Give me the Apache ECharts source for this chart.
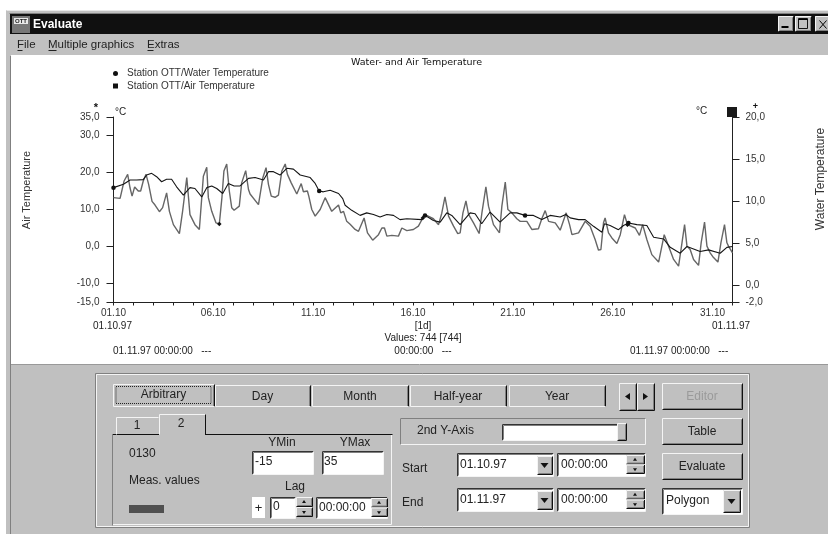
<!DOCTYPE html>
<html><head><meta charset="utf-8">
<style>html,body{margin:0;padding:0;background:#fff}#c{width:828px;height:534px;filter:blur(.35px)}</style>
<script src="https://cdn.jsdelivr.net/npm/echarts@6/dist/echarts.min.js"></script>
</head><body><div id="c"></div>
<script>
const airDays=[0,.33,.53,.71,.83,.93,1.06,1.24,1.36,1.49,1.63,1.76,1.93,2.08,2.3,2.46,2.66,2.8,3,3.3,3.46,3.67,3.83,4.08,4.3,4.42,4.5,4.67,4.75,4.92,5.13,5.3,5.43,5.53,5.67,5.8,5.92,6.04,6.3,6.42,6.62,6.76,6.84,7.26,7.48,7.64,7.76,7.9,8.09,8.26,8.43,8.6,8.71,8.9,9.18,9.4,9.51,9.71,9.78,9.93,10.1,10.35,10.6,10.93,11.27,11.38,11.52,11.68,11.85,12.1,12.27,12.55,12.72,12.98,13.27,13.44,13.57,13.69,13.94,14.27,14.44,14.69,15.02,15.27,15.49,15.6,16.02,16.28,16.44,16.6,16.78,17.03,17.24,17.36,17.5,17.65,17.78,18.03,18.31,18.45,18.65,18.78,19.03,19.33,19.45,19.62,19.75,19.95,20.2,20.37,20.7,20.95,21.28,21.45,21.62,21.79,22.12,22.37,22.67,22.84,22.96,23.29,23.62,23.87,24.12,24.29,24.41,24.54,24.62,24.79,24.96,25.21,25.38,25.59,25.74,26.13,26.34,26.5,26.71,26.96,27.3,27.58,27.8,28.05,28.3,28.47,28.6,28.72,28.88,29.05,29.3,29.43,29.6,29.72,29.88,30.05,30.27,30.42,30.6,30.72,30.8,31];
const airValues=[13.2,13,17.7,19.5,15.8,13.6,16.1,15,15,17.7,19.5,16.8,12.2,11.2,9.4,10.5,14.5,9.5,5.9,3.5,9.5,18.6,8.6,5.9,4.6,13.2,19,21.4,13.2,9.5,6.4,6.1,13.2,20.4,22.3,15,10.5,9.8,10.9,17.2,20.5,15.4,14.2,11.3,18.6,21.3,16.8,13.6,13.3,13.9,20.4,22.3,19.5,17.2,14.2,17,14.8,15,13.6,10,8.2,10,13.2,9.5,11.2,9.1,9.5,6.8,6,4.6,4.1,7.7,3.7,1.7,3.2,5,5,2.8,3,2.8,5,4.3,4.6,5.5,7.7,8.6,7.5,5.9,9,13.4,8.2,5.5,3.5,3.7,9.1,12.3,8.7,6.4,3.5,9.1,16.1,10.9,5.9,3.7,10.9,17.4,10,9.1,7.5,6.8,6.8,4.6,4.8,7.5,9.7,6.8,6.4,4.4,9.1,5.9,3.2,3.7,6.8,5.5,1.9,-1,-.8,6.4,7.7,3.7,2.3,.8,3.2,8.6,5.9,5,3,5.9,1.9,-2.2,-4.2,3.2,.1,-3.5,-5.3,1,5.9,.1,-.8,-3.5,-5.1,1,6.6,.1,-1.7,-3,-4.2,1,5.9,1,.1,-1.7];
const waterDays=[0,.5,.83,1.16,1.49,1.66,1.91,2.16,2.41,2.66,2.91,3.16,3.5,3.83,4.08,4.42,4.67,4.92,5.17,5.47,5.75,6.04,6.34,6.76,7.09,7.51,7.76,8.01,8.34,8.68,9.01,9.35,9.85,10.1,10.3,10.51,10.85,11.27,11.48,11.6,11.93,12.35,12.68,13.02,13.35,13.69,14.02,14.35,14.69,15.44,15.6,16.02,16.36,16.69,16.94,17.36,17.86,18.11,18.44,18.86,19.36,19.86,20.2,20.61,21.03,21.45,21.87,22.37,22.65,22.87,23.29,23.62,24.04,24.46,24.59,24.87,25.29,25.54,25.79,26.21,26.71,27.05,27.55,27.88,28.38,28.72,29.05,29.38,29.8,30.38,30.72,31];
const waterValues=[11.6,12,12.5,12.5,12.55,13.1,13.3,12.9,12.3,12.6,12.6,11.7,10.7,11.6,11.5,10.5,11.6,11.8,11.5,10.9,12.1,11.8,11.8,12.7,12.8,12.5,13.5,13.5,13.1,13.9,13.8,13.1,12.8,12.1,11.2,11.1,11.3,10.9,10.3,9.5,8.9,8.3,8.6,8.4,8.1,8.4,8.3,7.8,7.9,7.8,8.3,7.7,7.5,8.6,8.3,7.2,8.6,8.5,7.3,8.7,7.5,8.6,8.6,8.3,8.3,7.8,8.3,8.1,8.4,8,7.8,7.8,7,6.3,7.3,7.1,6.6,7.1,7.4,7.2,7.1,5.7,5.5,4.5,3.8,4.6,4.3,4,4.2,3.8,4.5,4.6];
const waterMarkerDays=[0,10.3,15.6,20.61,25.79];
const airMarkerDays=[5.3,15.49,25.74];
const xTickDays=[0,5,10,15,20,25,30];
const xTickLabels=['01.10','06.10','11.10','16.10','21.10','26.10','31.10'];
const leftTicks=[-15,-10,0,10,20,30,35];
const rightTicks=[-2,0,5,10,15,20];
const seriesNames=['Station OTT/Water Temperature','Station OTT/Air Temperature'];

const F='"Liberation Sans",Arial,sans-serif',G='#c0c0c0',D='#808080',K='#101010',L='#f4f4f4',TX='#222';
const els=[];
const rect=(x,y,w,h,fill,stroke,extra)=>els.push({type:'rect',silent:true,shape:{x,y,width:w,height:h},style:Object.assign({fill:fill||'none',stroke:stroke||null,lineWidth:1},extra||{})});
const line=(x1,y1,x2,y2,c)=>els.push({type:'line',silent:true,shape:{x1:x1+.5,y1:y1+.5,x2:x2+.5,y2:y2+.5},style:{stroke:c,lineWidth:1}});
const text=(s,x,y,o)=>{o=o||{};els.push({type:'text',silent:true,rotation:o.rot||0,x:x,y:y,style:{text:s,x:0,y:0,fill:o.c||TX,font:(o.b?'bold ':'')+(o.s||11)+'px '+(o.f||F),textAlign:o.a||'left',textVerticalAlign:'middle'}})};
const raised=(x,y,w,h)=>{rect(x,y,w,h,G);line(x,y,x+w,y,L);line(x,y,x,y+h,L);line(x+w-1,y+1,x+w-1,y+h,D);line(x+1,y+h-1,x+w,y+h-1,D);line(x+w,y,x+w,y+h,K);line(x,y+h,x+w,y+h,K)};
const sunken=(x,y,w,h,f)=>{rect(x,y,w,h,f||'#fff');line(x,y,x+w,y,'#333');line(x,y,x,y+h,'#333');line(x+1,y+1,x+w-1,y+1,D);line(x+1,y+1,x+1,y+h-1,D);line(x,y+h,x+w,y+h,L);line(x+w,y,x+w,y+h,L)};
const tabBtn=(x,y,w,h,s,dy)=>{rect(x,y,w,h,G);line(x,y,x+w,y,L);line(x,y,x,y+h,L);line(x+w,y,x+w,y+h,K);line(x+w-1,y+1,x+w-1,y+h,D);line(x,y+h,x+w,y+h,L);text(s,x+w/2,y+h/2+(dy===undefined?1:dy),{a:'center',s:12})};
const arrowDown=(cx,cy)=>els.push({type:'polygon',silent:true,shape:{points:[[cx-4,cy-2],[cx+4,cy-2],[cx,cy+3]]},style:{fill:'#111'}});
const spin=(x,y,w,h)=>{raised(x,y,w,h/2-1);raised(x,y+h/2,w,h/2-1);
 els.push({type:'polygon',silent:true,shape:{points:[[x+w/2-2,y+h/4+1],[x+w/2+2,y+h/4+1],[x+w/2,y+h/4-2]]},style:{fill:'#111'}});
 els.push({type:'polygon',silent:true,shape:{points:[[x+w/2-2,y+3*h/4-1],[x+w/2+2,y+3*h/4-1],[x+w/2,y+3*h/4+2]]},style:{fill:'#111'}});};

// window frame
rect(6,10,822,524,G);line(6,10,828,10,'#e8e8e8');line(9,13,828,13,D);
rect(10,14,818,20,K);
rect(12,16,18,17,'#777');rect(14,18,14,6,'#e8e8e8');text('OTT',21,21,{a:'center',s:6,c:'#222',b:true});
text('Evaluate',33,24.5,{c:'#fff',b:true,s:12});
raised(778,16,15,15);line(781,27,788,27,'#000');line(781,26,788,26,'#000');
raised(795,16,16,15);rect(798.5,18.5,9,10,null,'#111');line(798,19,807,19,'#000');
raised(815,16,14,15);line(819,20,826,28,'#000');line(826,20,819,28,'#000');
text('File',17,45,{s:11.5});text('Multiple graphics',48,45,{s:11.5});text('Extras',147,45,{s:11.5});
line(17,50,22,50,'#222');line(48,50,56,50,'#222');line(147,50,153,50,'#222');
rect(10,55,818,310,'#fff');rect(10,365,818,169,G);line(10,364,828,364,'#999');line(10,55,10,534,D);

// chart annotations
text('°C',115,112,{s:10});text('°C',696,111.5,{s:10});
rect(727,107,10,10,'#1a1a1a');
text('*',96,107.5,{s:11,a:'center',c:'#111',b:true});
text('+',755.5,107,{s:9,a:'center',c:'#111',b:true});
text('Air Temperature',27,190,{rot:Math.PI/2,a:'center',s:11,c:'#333'});
text('Water Temperature',821,179,{rot:Math.PI/2,a:'center',s:12,c:'#333'});
text('01.10.97',112.5,326,{a:'center',s:10});text('01.11.97',731,326,{a:'center',s:10});
text('[1d]',423,326,{a:'center',s:10});text('Values: 744 [744]',423,338.5,{a:'center',s:10});
text('00:00:00   ---',423,351,{a:'center',s:10});
text('01.11.97 00:00:00   ---',113,351,{s:10});text('01.11.97 00:00:00   ---',630,351,{s:10});

// control panel
rect(95.5,373.5,654,154,null,D);rect(96.5,374.5,652,152,null,L);
tabBtn(113,384,101,22,'Arbitrary',0);rect(116,386.5,95,17,null,'#222',{lineDash:[1,1]});
tabBtn(215,385,95,21,'Day');tabBtn(312,385,96,21,'Month');tabBtn(410,385,96,21,'Half-year');tabBtn(509,385,96,21,'Year');
raised(619,383,17,27);raised(637,383,17,27);
els.push({type:'polygon',silent:true,shape:{points:[[630,393],[630,400],[625,396.5]]},style:{fill:'#111'}});
els.push({type:'polygon',silent:true,shape:{points:[[643,393],[643,400],[648,396.5]]},style:{fill:'#111'}});
raised(662,383,80,26);text('Editor',702,397,{a:'center',s:12,c:'#9a9a9a'});
raised(662,418,80,26);text('Table',702,431.5,{a:'center',s:12});
raised(662,453,80,26);text('Evaluate',702,466.5,{a:'center',s:12});
sunken(662,488,80,26);raised(723,490,17,22);arrowDown(731.5,501);text('Polygon',666,500.5,{s:12});
rect(400.5,418.5,245,26,null,L);line(400,418,645,418,D);line(400,418,400,444,D);text('2nd Y-Axis',417,431,{s:12});
sunken(502,424,124,16);raised(617,423,9,17);
text('Start',402,468.5,{s:12});text('End',402,503,{s:12});
sunken(457,453,96,23);text('01.10.97',460,465,{s:12});raised(537,456,15,18);arrowDown(544.5,465);
sunken(557,453,88,23);text('00:00:00',561,465,{s:12});spin(626,455,18,19);
sunken(457,488,96,23);text('01.11.97',460,500,{s:12});raised(537,491,15,18);arrowDown(544.5,500);
sunken(557,488,88,23);text('00:00:00',561,500,{s:12});spin(626,490,18,19);
// left tab page
rect(112.5,434.5,279,90,null,L);line(112,434,392,434,K);line(112,434,112,525,D);
rect(116,417,42,17,G);line(116,417,158,417,L);line(116,417,116,434,L);text('1',137,426,{a:'center',s:12});
rect(159,414,46,21,G);line(159,414,205,414,L);line(159,414,159,434,L);line(205,414,205,434,K);text('2',181,424,{a:'center',s:12});
text('0130',129,454,{s:12});text('Meas. values',129,480.5,{s:12});rect(129,505,35,8,'#505050');
text('YMin',282,443,{a:'center',s:12});text('YMax',355,443,{a:'center',s:12});
sunken(252,451,61,23);text('-15',255,462,{s:12});sunken(322,451,61,23);text('35',324,462,{s:12});
text('Lag',295,487,{a:'center',s:12});
rect(252,497,13,21,'#fff');text('+',258.5,508,{a:'center',s:13});
sunken(270,497,25,21);text('0',273,507,{s:12});spin(296,497,16,20);
sunken(316,497,71,21);text('00:00:00',319,508,{s:12});spin(371,498,16,19);

const pts=(days,vals,marked,sym)=>days.map((d,i)=>{const m=marked.includes(d);return {value:[d,vals[i]],symbol:m?sym:'none',symbolSize:m?4.5:0}});
const axisStyle={lineStyle:{color:'#222',width:1}};
const chart=echarts.init(document.getElementById('c'));
chart.setOption({
 animation:false,backgroundColor:'#fff',
 title:{text:'Water- and Air Temperature',left:351,top:57.5,padding:0,textStyle:{fontFamily:'"DejaVu Sans"',fontSize:9.5,fontWeight:'normal',color:'#111'}},
 legend:{orient:'vertical',left:113,top:68.5,itemWidth:5,itemHeight:5,itemGap:2.5,
   data:[{name:seriesNames[0],icon:'circle'},{name:seriesNames[1],icon:'rect'}],
   textStyle:{fontFamily:F,fontSize:10,color:'#333',padding:[0,0,0,4]},padding:0,selectedMode:false},
 grid:{left:113.5,right:95.5,top:117,bottom:232,containLabel:false},
 xAxis:{type:'value',min:0,max:31,interval:1,axisLine:Object.assign({onZero:false},axisStyle),
   axisTick:{length:3.5,lineStyle:{color:'#222'}},splitLine:{show:false},
   axisLabel:{customValues:xTickDays,margin:6.5,fontFamily:F,fontSize:10,color:'#333',
     formatter:v=>xTickLabels[xTickDays.indexOf(v)]||''}},
 yAxis:[
  {type:'value',min:-15,max:35,position:'left',axisLine:{show:true,lineStyle:axisStyle.lineStyle},
   axisTick:{show:true,length:7,customValues:leftTicks,lineStyle:{color:'#222'}},splitLine:{show:false},
   axisLabel:{customValues:leftTicks,margin:14,fontFamily:F,fontSize:10,color:'#333',formatter:v=>v.toFixed(1).replace('.',',')}},
  {type:'value',min:-2,max:20,position:'right',axisLine:{show:true,lineStyle:axisStyle.lineStyle},
   axisTick:{show:true,length:7,customValues:rightTicks,lineStyle:{color:'#222'}},splitLine:{show:false},
   axisLabel:{customValues:rightTicks,margin:13,fontFamily:F,fontSize:10,color:'#333',formatter:v=>v.toFixed(1).replace('.',',')}}
 ],
 series:[
  {name:seriesNames[1],type:'line',yAxisIndex:0,data:pts(airDays,airValues,airMarkerDays,'diamond'),lineStyle:{color:'#666',width:1.4},itemStyle:{color:'#111'},z:2,silent:true},
  {name:seriesNames[0],type:'line',yAxisIndex:1,data:pts(waterDays,waterValues,waterMarkerDays,'circle'),lineStyle:{color:'#151515',width:1.1},itemStyle:{color:'#111'},z:3,silent:true}
 ],
 graphic:{elements:els}
});
</script></body></html>
